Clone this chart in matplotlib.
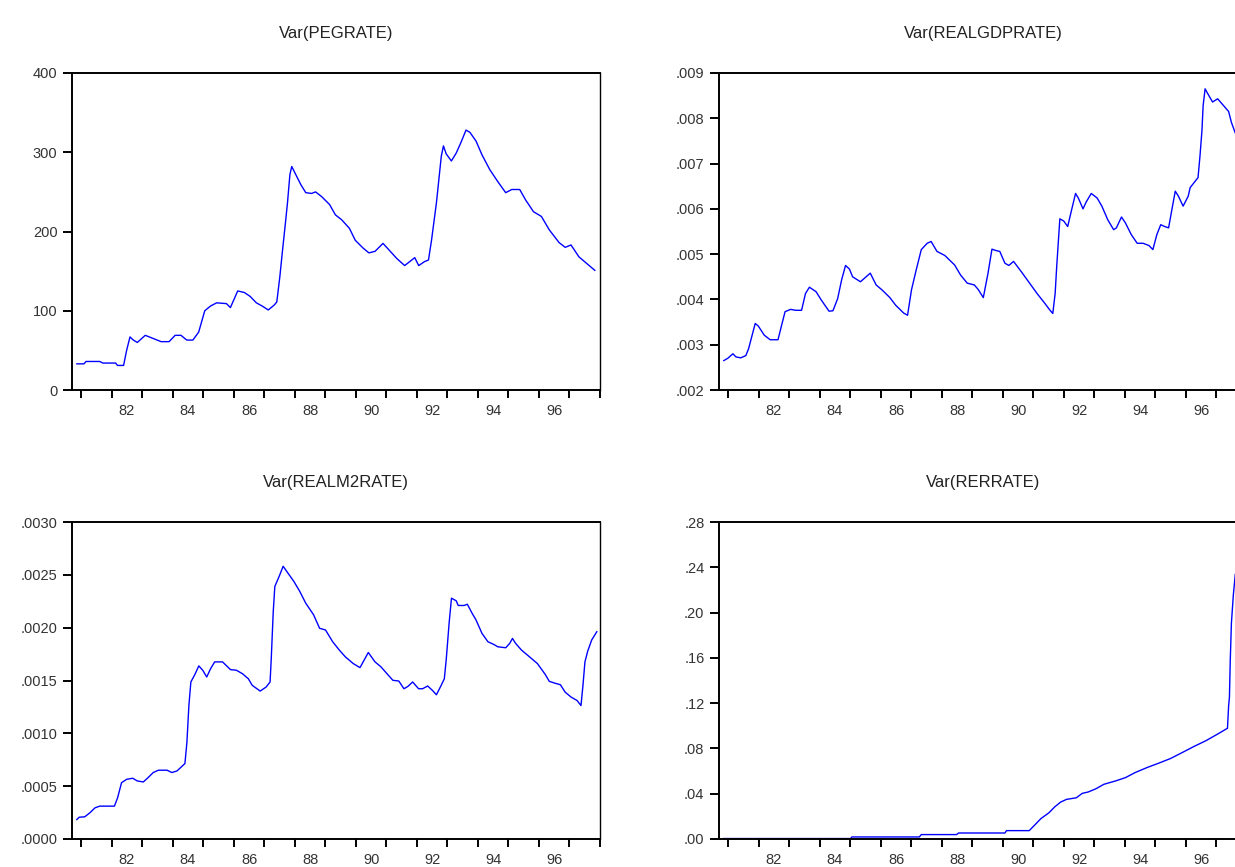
import numpy as np
import matplotlib.pyplot as plt

plt.rcParams['font.family'] = ['Liberation Sans', 'DejaVu Sans']

# conditional variances (x in fractional years)
peg_t = [1980.86, 1981.09, 1981.16, 1981.61, 1981.71, 1982.13, 1982.19, 1982.39,
         1982.49, 1982.60, 1982.71, 1982.84, 1983.10, 1983.23, 1983.62, 1983.88,
         1984.08, 1984.27, 1984.46, 1984.66, 1984.85, 1985.05, 1985.24, 1985.44,
         1985.76, 1985.89, 1986.13, 1986.35, 1986.54, 1986.74, 1986.93, 1987.13,
         1987.32, 1987.41, 1987.51, 1987.60, 1987.68, 1987.76, 1987.84, 1987.90,
         1988.03, 1988.20, 1988.36, 1988.55, 1988.68, 1988.88, 1989.14, 1989.33,
         1989.53, 1989.79, 1989.98, 1990.24, 1990.43, 1990.63, 1990.89, 1991.08,
         1991.34, 1991.60, 1991.93, 1992.06, 1992.25, 1992.38, 1992.48, 1992.64,
         1992.80, 1992.87, 1992.96, 1993.13, 1993.29, 1993.44, 1993.61, 1993.74,
         1993.94, 1994.13, 1994.39, 1994.65, 1994.91, 1995.11, 1995.37, 1995.56,
         1995.82, 1996.08, 1996.34, 1996.66, 1996.86, 1997.05, 1997.31, 1997.83]
peg_v = [33, 33, 36, 36, 34, 34, 31, 31, 50, 67, 63, 60, 69, 67, 61, 61,
         69, 69, 63, 63, 73, 100, 106, 110, 109, 104, 125, 123, 118, 110, 106, 101,
         107, 111, 143, 177, 206, 236, 272, 282, 272, 259, 249, 248, 250, 244,
         234, 221, 215, 204, 189, 179, 173, 175, 185, 177, 166, 157, 167, 157,
         162, 164, 189, 236, 295, 308, 298, 289, 299, 312, 328, 325, 314, 297,
         278, 263, 249, 253, 253, 240, 225, 219, 202, 186, 180, 183, 168, 151]

gdp_x = [262, 272, 285, 293, 305, 318, 325, 335, 342, 350, 365, 380, 400, 408, 418,
         432, 445, 460, 470, 480, 497, 510, 530, 540, 552, 562, 572, 582, 590, 610,
         635, 650, 665, 685, 700, 720, 730, 740, 752, 765, 780, 790, 805, 825, 850,
         865, 882, 900, 910, 923, 935, 945, 955, 965, 978, 988, 1000, 1020, 1040,
         1060, 1080, 1093, 1100, 1106, 1110, 1118, 1128, 1138, 1148, 1158, 1165,
         1177, 1185, 1198, 1213, 1225, 1240, 1255, 1262, 1275, 1285, 1300, 1315,
         1330, 1345, 1355, 1365, 1375, 1385, 1395, 1405, 1412, 1420, 1432, 1445,
         1450, 1460, 1470, 1475, 1480, 1483, 1488, 1495, 1507, 1520, 1535, 1548,
         1555, 1568, 1580]
gdp_t = [1981 + (x - 273) / 77.75 for x in gdp_x]
gdp_v = [.00265, .00270, .00280, .00273, .00271, .00276, .00291, .00324, .00347,
         .00341, .00321, .00311, .00311, .00339, .00373, .00378, .00376, .00376,
         .00413, .00427, .00417, .00399, .00374, .00375, .00402, .00443, .00475,
         .00467, .00450, .00439, .00458, .00432, .00421, .00404, .00387, .00370,
         .00365, .00421, .00465, .00510, .00524, .00528, .00506, .00497, .00476,
         .00454, .00436, .00432, .00422, .00404, .00458, .00511, .00508, .00506,
         .00480, .00475, .00484, .00461, .00437, .00413, .00391, .00376, .00369,
         .00413, .00473, .00578, .00573, .00561, .00598, .00634, .00624, .00600,
         .00615, .00634, .00624, .00606, .00576, .00554, .00558, .00582, .00569,
         .00543, .00524, .00524, .00519, .00510, .00543, .00565, .00561, .00558,
         .00606, .00639, .00628, .00606, .00628, .00647, .00658, .00669, .00717,
         .00773, .00828, .00865, .00854, .00836, .00843, .00828, .00815, .00791,
         .00760, .00735]

m2_x = [192, 198, 212, 225, 238, 250, 287, 295, 305, 318, 333, 345, 360, 372, 385,
        398, 420, 432, 445, 465, 470, 475, 480, 490, 500, 510, 520, 530, 540, 560,
        580, 595, 610, 625, 635, 655, 670, 680, 683, 688, 692, 703, 713, 725, 740,
        755, 770, 790, 805, 820, 838, 855, 870, 890, 907, 915, 928, 945, 960, 975,
        990, 1005, 1018, 1028, 1040, 1055, 1065, 1078, 1090, 1100, 1112, 1120, 1125,
        1132, 1138, 1150, 1155, 1170, 1178, 1190, 1200, 1215, 1230, 1245, 1255, 1275,
        1285, 1292, 1300, 1315, 1335, 1355, 1375, 1385, 1398, 1413, 1425, 1440, 1455,
        1465, 1470, 1475, 1482, 1492, 1505]
m2_t = [1981 + (x - 203) / 77.06 for x in m2_x]
m2_v = [.000184, .000206, .000210, .000248, .000295, .000311, .000311, .000390,
        .000533, .000565, .000575, .000549, .000540, .000581, .000629, .000651,
        .000651, .000629, .000644, .000714, .000914, .001263, .001486, .001556,
        .001638, .001597, .001533, .001613, .001676, .001676, .001603, .001597,
        .001565, .001517, .001454, .001400, .001438, .001486, .001708, .002152,
        .002390, .002486, .002581, .002517, .002438, .002343, .002232, .002121,
        .001994, .001978, .001867, .001787, .001724, .001660, .001622, .001676,
        .001765, .001676, .001629, .001565, .001502, .001495, .001422, .001444,
        .001486, .001422, .001422, .001448, .001406, .001365, .001454, .001517,
        .001708, .002041, .002279, .002254, .002210, .002210, .002222, .002137,
        .002073, .001946, .001867, .001841, .001819, .001810, .001851, .001898,
        .001851, .001787, .001724, .001660, .001556, .001492, .001476, .001460,
        .001390, .001343, .001311, .001263, .001454, .001676, .001778, .001883,
        .001962]

rer_x = [262, 585, 588, 760, 765, 855, 860, 978, 982, 1040, 1055, 1070, 1090, 1105,
         1120, 1135, 1160, 1175, 1190, 1210, 1230, 1260, 1285, 1310, 1340, 1370,
         1400, 1430, 1460, 1490, 1520, 1545, 1548, 1550, 1552, 1555, 1560, 1565, 1570]
rer_t = [1981 + (x - 273) / 77.75 for x in rer_x]
rer_v = [0.0004, 0.0004, 0.0018, 0.0018, 0.0039, 0.0039, 0.0053, 0.0053, 0.0074,
         0.0074, 0.0127, 0.0181, 0.0231, 0.0284, 0.0326, 0.0350, 0.0364, 0.0403,
         0.0415, 0.0444, 0.0483, 0.0513, 0.0542, 0.0587, 0.0631, 0.0670, 0.0711,
         0.0764, 0.0818, 0.0868, 0.0927, 0.0978, 0.1179, 0.1253, 0.1564, 0.1905,
         0.2157, 0.2341, 0.2350]

titles = ['Var(PEGRATE)', 'Var(REALGDPRATE)', 'Var(REALM2RATE)', 'Var(RERRATE)']
yticks = [[0, 100, 200, 300, 400],
          [.002, .003, .004, .005, .006, .007, .008, .009],
          [0, .0005, .0010, .0015, .0020, .0025, .0030],
          [0, .04, .08, .12, .16, .20, .24, .28]]
ylabels = [['0', '100', '200', '300', '400'],
           ['.002', '.003', '.004', '.005', '.006', '.007', '.008', '.009'],
           ['.0000', '.0005', '.0010', '.0015', '.0020', '.0025', '.0030'],
           ['.00', '.04', '.08', '.12', '.16', '.20', '.24', '.28']]
year_ticks = list(range(1981, 1999))
year_labels = ['82', '84', '86', '88', '90', '92', '94', '96']

series = [(peg_t, peg_v), (gdp_t, gdp_v), (m2_t, m2_v), (rer_t, rer_v)]

fig = plt.figure(figsize=(12.35, 8.67), dpi=100)
W, H = 1235.0, 867.0
boxes = [(72, 73), (719, 73), (72, 522), (719, 522)]

for i in range(4):
    left, top = boxes[i]
    ax = fig.add_axes([left / W, 1 - (top + 317) / H, 528 / W, 317 / H])
    t, v = series[i]
    ax.plot(t, v, color='#0000ff', lw=1.0)
    ax.set_xlim(1980.70, 1998.0)
    ax.set_ylim(yticks[i][0], yticks[i][-1])
    ax.set_yticks(yticks[i])
    ax.set_yticklabels(ylabels[i])
    ax.set_xticks(year_ticks)
    ax.set_xticklabels([])
    ax.set_xticks([int(s) + 1900.5 for s in year_labels], minor=True)
    ax.set_xticklabels(year_labels, minor=True)
    ax.tick_params(axis='x', which='major', direction='out', length=6, width=1.4,
                   color='black')
    ax.tick_params(axis='x', which='minor', length=0, pad=10, labelsize=10.5,
                   labelcolor='#333333')
    ax.tick_params(axis='y', direction='out', length=6.5, width=1.4, pad=4,
                   labelsize=10.5, labelcolor='#333333')
    for s in ax.spines.values():
        s.set_linewidth(1.4)
        s.set_color('black')
    ax.spines['right'].set_linewidth(1.0)
    ax.set_title(titles[i], fontsize=12, color='#222222', pad=25)

fig.savefig('out.png', dpi=100)
